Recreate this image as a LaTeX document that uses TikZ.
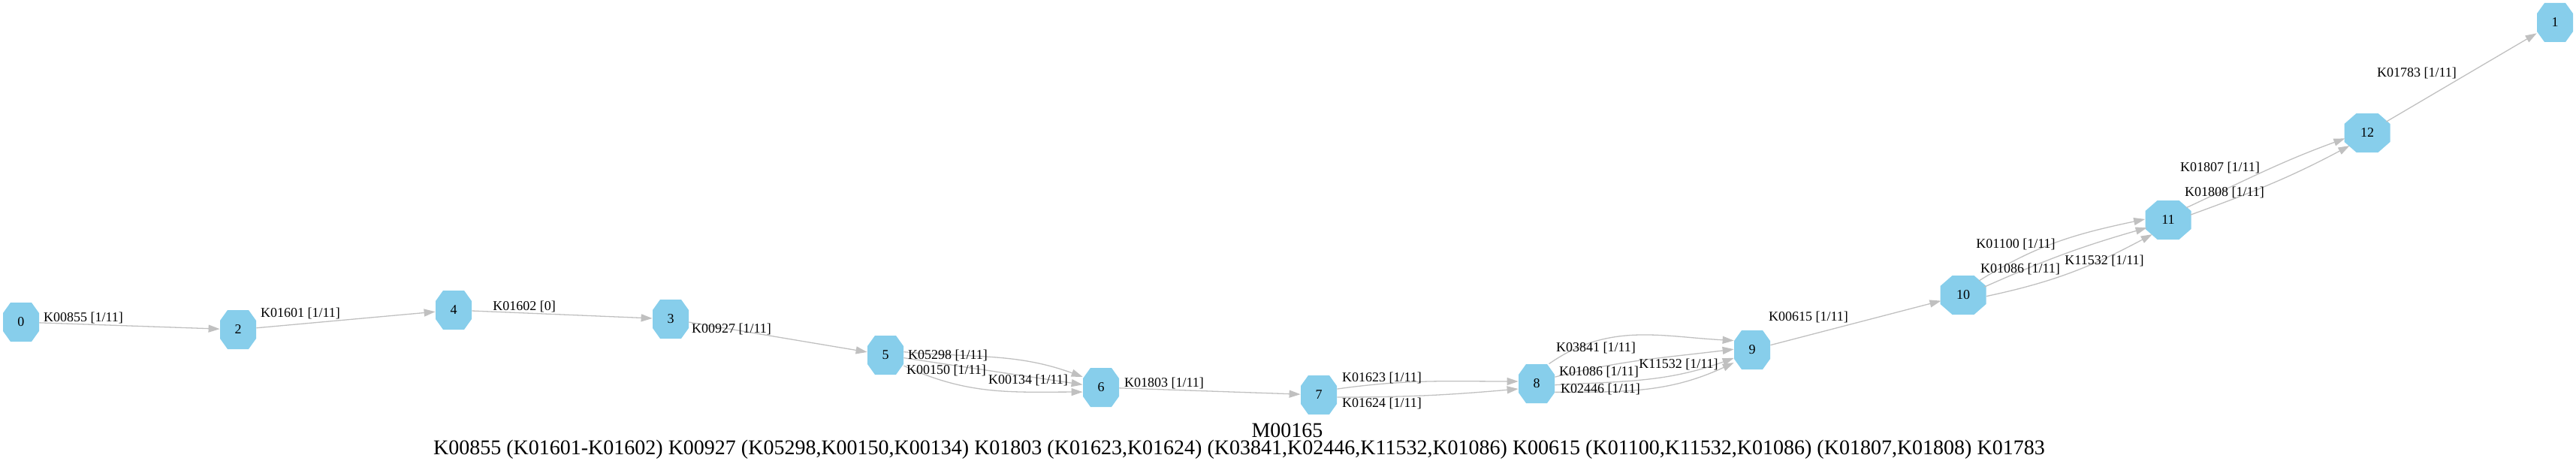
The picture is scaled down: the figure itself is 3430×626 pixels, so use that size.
\documentclass[tikz,border=0pt]{standalone}
\usepackage{fontspec}
\setmainfont{Liberation Serif}
\usetikzlibrary{arrows.meta,shapes.geometric}
\definecolor{skyblue}{HTML}{87CEEB}
\definecolor{edgegray}{HTML}{C0C0C0}

\begin{document}
\begin{tikzpicture}[x=0.5pt, y=-0.5pt,
    knode/.style={inner sep=0pt, minimum height=26pt, font=\fontsize{9}{10}\selectfont},
    kedge/.style={draw=edgegray, line width=0.65pt, -{Triangle[length=7.5pt,width=5pt]}},
    klabel/.style={inner sep=0pt, font=\fontsize{9}{10}\selectfont},
    ktitle/.style={inner sep=0pt, font=\fontsize{14}{16}\selectfont}]
  \useasboundingbox (0,0) rectangle (3430,626);
  % octagons: name/x/y/half width/chamfer/shape
  \foreach \n/\x/\y/\w/\c/\s in {0/28/429/24/10/rectangle, 2/317/439/24/10/rectangle,
      4/604/413/24/10/rectangle, 3/893/425/24/10/rectangle, 5/1179/473/24/10/rectangle,
      6/1466/516/24/10/rectangle, 7/1756/526/24/10/rectangle, 8/2046/511/24/10/rectangle,
      9/2333/466/24/10/rectangle, 10/2614/393/30.5/16/ellipse, 11/2887/293/30.5/16/ellipse,
      12/3152/177/30.5/16/ellipse, 1/3402/30/24/10/rectangle} {
    \fill[skyblue] (\x,\y) ++(\c-\w,-26) -- ++(2*\w-2*\c,0) -- ++(\c,14) -- ++(0,24)
      -- ++(-\c,14) -- ++(2*\c-2*\w,0) -- ++(-\c,-14) -- ++(0,-24) -- cycle;
    \node[knode, shape=\s, minimum width=\w*1pt] (n\n) at (\x,\y) {\n};
  }

  \draw[kedge] (n0) -- (n2);
  \draw[kedge] (n2) -- (n4);
  \draw[kedge] (n4) -- (n3);
  \draw[kedge] (n3) -- (n5);
  \draw[kedge] (n5.10) to[out=-5,in=160] (n6.150);
  \draw[kedge] (n5) -- (n6);
  \draw[kedge] (n5.-30) to[out=-25,in=180] (n6.194);
  \draw[kedge] (n6) -- (n7);
  \draw[kedge] (n7.18) to[out=8,in=180] (n8.173);
  \draw[kedge] (n7.-7) to[out=0,in=185] (n8.196);
  \draw[kedge] (n8.58) to[out=35,in=177] (n9.153);
  \draw[kedge] (n8.20) to[out=14,in=187] (n9.178);
  \draw[kedge] (n8.-4) to[out=3,in=200] (n9.204);
  \draw[kedge] (n8.-25) to[out=0,in=205] (n9.215);
  \draw[kedge] (n9) -- (n10);
  \draw[kedge] (n10.42) to[out=32,in=192] (n11.178);
  \draw[kedge] (n10.21) to[out=24,in=196] (n11.200);
  \draw[kedge] (n10.-3) to[out=12,in=208] (n11.222);
  \draw[kedge] (n11.34) to[out=25,in=200] (n12.194);
  \draw[kedge] (n11.13) to[out=20,in=208] (n12.216);
  \draw[kedge] (n12) -- (n1);

  \node[klabel] (l0) at (111,423) {K00855 [1/11]};
  \node[klabel] (l1) at (400,417) {K01601 [1/11]};
  \node[klabel] (l2) at (698,408) {K01602 [0]};
  \node[klabel] (l3) at (974,438) {K00927 [1/11]};
  \node[klabel] (l4) at (1262,473) {K05298 [1/11]};
  \node[klabel] (l5) at (1260,493) {K00150 [1/11]};
  \node[klabel] (l6) at (1369,506) {K00134 [1/11]};
  \node[klabel] (l7) at (1550,510) {K01803 [1/11]};
  \node[klabel] (l8) at (1840,503) {K01623 [1/11]};
  \node[klabel] (l9) at (1840,537) {K01624 [1/11]};
  \node[klabel] (l10) at (2125,463) {K03841 [1/11]};
  \node[klabel] (l11) at (2129,495) {K01086 [1/11]};
  \node[klabel] (l12) at (2235,485) {K11532 [1/11]};
  \node[klabel] (l13) at (2131,518) {K02446 [1/11]};
  \node[klabel] (l14) at (2408,422) {K00615 [1/11]};
  \node[klabel] (l15) at (2684,325) {K01100 [1/11]};
  \node[klabel] (l16) at (2690,358) {K01086 [1/11]};
  \node[klabel] (l17) at (2802,347) {K11532 [1/11]};
  \node[klabel] (l18) at (2956,223) {K01807 [1/11]};
  \node[klabel] (l19) at (2962,256) {K01808 [1/11]};
  \node[klabel] (l20) at (3218,97) {K01783 [1/11]};

  \node[ktitle] (title) at (1714,573) {M00165};
  \node[ktitle] (kos) at (1650,599) {K00855 (K01601-K01602) K00927 (K05298,K00150,K00134) K01803 (K01623,K01624) (K03841,K02446,K11532,K01086) K00615 (K01100,K11532,K01086) (K01807,K01808) K01783};
\end{tikzpicture}
\end{document}
